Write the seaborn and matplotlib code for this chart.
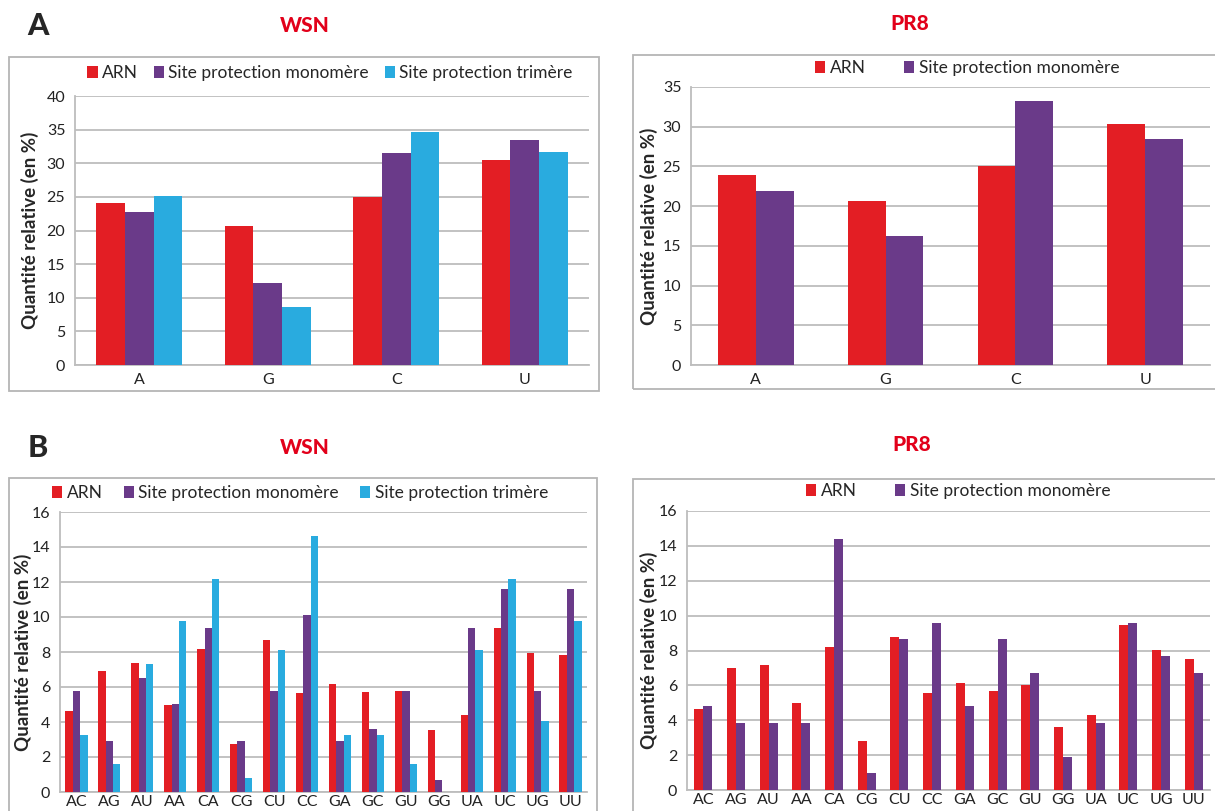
import seaborn as sns
import matplotlib.pyplot as plt
import pandas as pd
import numpy as np
from matplotlib.patches import Patch, Rectangle

sns.set_style("white")
plt.rcParams['font.family'] = ['Lato', 'DejaVu Sans']

# data
bases = ["A", "G", "C", "U"]
wsn_arn = [24.1, 20.6, 25.0, 30.5]
wsn_mono = [22.8, 12.2, 31.5, 33.5]
wsn_tri = [25.1, 8.6, 34.6, 31.6]
pr8_arn = [23.9, 20.7, 25.0, 30.3]
pr8_mono = [21.9, 16.2, 33.3, 28.5]

dinucs = ["AC", "AG", "AU", "AA", "CA", "CG", "CU", "CC",
          "GA", "GC", "GU", "GG", "UA", "UC", "UG", "UU"]
wsn_di_arn = [4.65, 6.9, 7.35, 5.0, 8.2, 2.75, 8.7, 5.65, 6.2, 5.7, 5.75, 3.55, 4.4, 9.35, 7.95, 7.85]
wsn_di_mono = [5.8, 2.9, 6.5, 5.05, 9.4, 2.9, 5.8, 10.1, 2.9, 3.6, 5.8, 0.7, 9.4, 11.6, 5.8, 11.6]
wsn_di_tri = [3.25, 1.6, 7.3, 9.75, 12.2, 0.8, 8.1, 14.65, 3.25, 3.25, 1.6, 0.0, 8.1, 12.2, 4.05, 9.75]
pr8_di_arn = [4.65, 7.0, 7.15, 5.0, 8.2, 2.8, 8.8, 5.55, 6.15, 5.7, 6.0, 3.6, 4.3, 9.45, 8.05, 7.5]
pr8_di_mono = [4.8, 3.85, 3.85, 3.85, 14.4, 0.95, 8.65, 9.6, 4.8, 8.65, 6.7, 1.9, 3.85, 9.6, 7.7, 6.7]

series_names = ["ARN", "Site protection monomère", "Site protection trimère"]
colors = ["#E31E24", "#6A3A89", "#29ABDF"]
GRID = "#BDBDBD"
W, H = 1215, 811

fig = plt.figure(figsize=(12.15, 8.11), dpi=100)


def px_axes(x0, y0, x1, y1):
    return fig.add_axes([x0 / W, 1 - y1 / H, (x1 - x0) / W, (y1 - y0) / H])


def frame(x0, y0, x1, y1):
    fig.patches.append(Rectangle((x0 / W, 1 - y1 / H), (x1 - x0) / W, (y1 - y0) / H,
                                 transform=fig.transFigure, fill=False,
                                 edgecolor="#B5B5B5", lw=1.3, zorder=0))


def panel(box, ax_px, cats, series, ymax, step, width, leg_xy, colspace, ylab_x, xpad=6):
    frame(*box)
    ax = px_axes(*ax_px)
    names = series_names[:len(series)]
    df = pd.DataFrame({
        "cat": np.tile(cats, len(series)),
        "val": np.concatenate(series),
        "serie": np.repeat(names, len(cats)),
    })
    sns.barplot(data=df, x="cat", y="val", hue="serie", order=cats, hue_order=names,
                palette=colors[:len(series)], width=width, saturation=1, linewidth=0,
                legend=False, ax=ax, zorder=3)
    n = len(cats)
    ax.set_xlim(-0.5, n - 0.5)
    ax.set_ylim(0, ymax)
    ax.set_yticks(np.arange(0, ymax + 0.01, step))
    ax.yaxis.grid(True, color=GRID, lw=1.3, zorder=0)
    ax.set_axisbelow(True)
    for s in ["top", "right"]:
        ax.spines[s].set_visible(False)
    for s in ["left", "bottom"]:
        ax.spines[s].set_color(GRID)
        ax.spines[s].set_linewidth(1.3)
    ax.set_xticks(np.arange(-0.5, n), minor=True)
    ax.tick_params(axis="x", which="major", length=0, labelsize=11.5, pad=xpad, labelcolor="#222222")
    ax.tick_params(axis="x", which="minor", length=5, color=GRID, width=1.2)
    ax.tick_params(axis="y", length=4, color=GRID, width=1.2, labelsize=11.5, pad=3,
                   labelcolor="#222222")
    ax.set_xlabel("")
    ax.set_ylabel("")
    fig.text(ylab_x / W, 1 - (ax_px[1] + ax_px[3]) / 2 / H, "Quantité relative (en %)",
             rotation=90, ha="center", va="center", fontsize=13.5, fontweight="bold")
    handles = [Patch(facecolor=c, edgecolor="none") for c in colors[:len(series)]]
    fig.legend(handles, names, loc="center", bbox_to_anchor=(leg_xy[0] / W, 1 - leg_xy[1] / H),
               ncol=len(series), frameon=False, fontsize=12.5, handlelength=0.6,
               handleheight=0.7, handletextpad=0.25, columnspacing=colspace,
               borderpad=0, borderaxespad=0)
    return ax


# panel A
panel((9, 57, 599, 391), (75, 96, 589, 365), bases, [wsn_arn, wsn_mono, wsn_tri],
      40, 5, 0.67, (330, 73), 0.9, 30)
panel((633, 55, 1240, 389), (691, 87, 1210, 365), bases, [pr8_arn, pr8_mono],
      35, 5, 0.58, (967, 68), 2.2, 649)
# panel B
panel((9, 478, 597, 840), (60, 512, 587, 792), dinucs, [wsn_di_arn, wsn_di_mono, wsn_di_tri],
      16, 2, 0.67, (300, 493), 1.2, 23, xpad=2)
panel((633, 479, 1240, 840), (687, 511, 1210, 790), dinucs, [pr8_di_arn, pr8_di_mono],
      16, 2, 0.55, (958, 491), 2.2, 649, xpad=2)

red = "#E2001A"
fig.text(38 / W, 1 - 26 / H, "A", ha="center", va="center", fontsize=22, fontweight="black")
fig.text(38 / W, 1 - 448 / H, "B", ha="center", va="center", fontsize=22, fontweight="black")
fig.text(305 / W, 1 - 26 / H, "WSN", ha="center", va="center", fontsize=15, fontweight="black", color=red)
fig.text(910 / W, 1 - 23 / H, "PR8", ha="center", va="center", fontsize=15, fontweight="black", color=red)
fig.text(305 / W, 1 - 448 / H, "WSN", ha="center", va="center", fontsize=15, fontweight="black", color=red)
fig.text(912 / W, 1 - 445 / H, "PR8", ha="center", va="center", fontsize=15, fontweight="black", color=red)

fig.savefig("out.png", dpi=100)
plt.close(fig)
